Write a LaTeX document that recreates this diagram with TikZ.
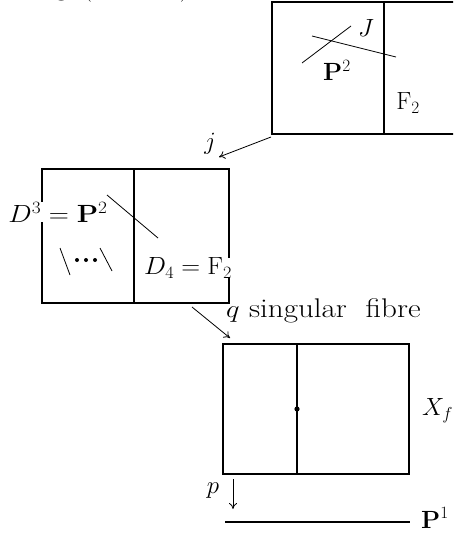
\documentclass[tikz,border=0pt]{standalone}
\usetikzlibrary{arrows.meta}
\begin{document}
\begin{tikzpicture}[x=1pt,y=-1pt,
  lbl/.style={inner sep=1pt,font=\fontsize{27}{31}\selectfont},
  wlbl/.style={lbl,fill=white},
  boxline/.style={line width=1.1pt},
  thin/.style={line width=0.8pt},
  arr/.style={line width=0.8pt,-{To[length=6pt,width=8pt]}}]
\useasboundingbox (0,0) rectangle (453,535);
\clip (0,0) rectangle (453,535);
% clipped caption at top
\node[lbl,anchor=base west,inner sep=0pt] (cap) at (32,-4) {Fig.\ (11.10.12)};
% top box
\draw[boxline] (470,2) -- (272,2) -- (272,134) -- (470,134);
\draw[boxline] (384,2) -- (384,134);
\coordinate (a1) at (302,63); \coordinate (a2) at (351,26);
\coordinate (b1) at (312,36); \coordinate (b2) at (396,57);
\draw[thin] (a1) -- (a2);
\draw[thin] (b1) -- (b2);
\node[lbl] (J) at (366,28) {$J$};
\node[lbl] (P2) at (337,70) {$\mathbf{P}^2$};
\node[lbl] (F2) at (408,103) {$\mathrm{F}_2$};
% arrow j
\coordinate (js) at (271,137);
\coordinate (je) at (219,157);
\draw[arr] (js) -- (je);
\node[lbl] (jl) at (210,144) {$j$};
% middle box
\draw[boxline] (42,169) rectangle (229,303);
\draw[boxline] (134,169) -- (134,303);
\coordinate (c1) at (107,195); \coordinate (c2) at (158,238);
\draw[thin] (c1) -- (c2);
\node[wlbl,inner sep=0pt] (D3) at (58,212) {\scalebox{1.12}[1]{$D^3=\mathbf{P}^2$}};
\coordinate (s1a) at (60,248); \coordinate (s1b) at (70,275);
\coordinate (s2a) at (100,248); \coordinate (s2b) at (112,271);
\draw[thin] (s1a) -- (s1b);
\draw[thin] (s2a) -- (s2b);
\foreach \x in {77,86,95} \fill (\x,260) circle (2);
\node[wlbl,inner sep=0pt] (D4) at (188,268) {\scalebox{1.05}[1]{$D_4=\mathrm{F}_2$}};
% arrow q
\coordinate (qs) at (192,307);
\coordinate (qe) at (230,338);
\draw[arr] (qs) -- (qe);
\node[lbl,anchor=west,inner sep=0pt] (ql) at (226,311) {\scalebox{1.15}[1]{$q$ singular\ \ fibre}};
% bottom box
\draw[line width=1.3pt] (223,344) rectangle (409,474);
\draw[line width=1.3pt] (297,344) -- (297,474);
\fill (297,409) circle (2.6);
\node[lbl,anchor=west,inner sep=0pt] (Xf) at (422,411) {$X_f$};
% arrow p
\coordinate (ps) at (233,479);
\coordinate (pe) at (233,509);
\draw[arr] (ps) -- (pe);
\node[lbl] (pl) at (213,491) {$p$};
% base line
\coordinate (l1) at (225,522); \coordinate (l2) at (410,522);
\draw[line width=1.1pt] (l1) -- (l2);
\node[lbl,anchor=base west,inner sep=0pt] (P1) at (421,528) {$\mathbf{P}^1$};
\end{tikzpicture}
\end{document}
